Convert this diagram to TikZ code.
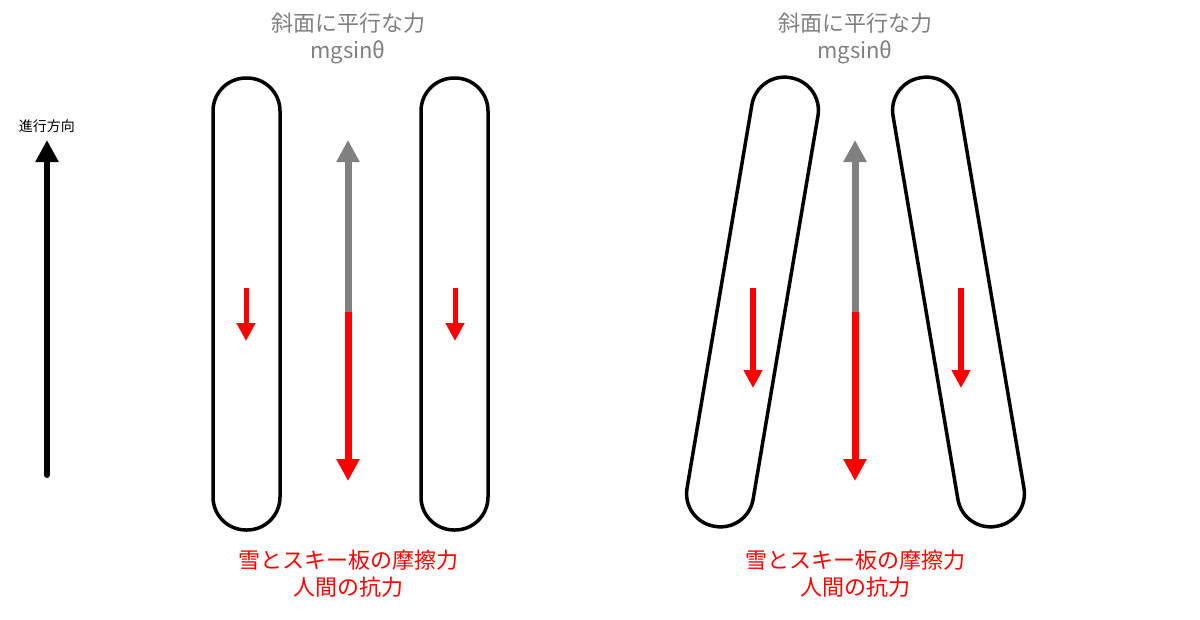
\documentclass[tikz,border=0pt]{standalone}
\usepackage{fontspec}
\setmainfont{Noto Sans CJK JP}
\usetikzlibrary{arrows.meta}
\definecolor{fgray}{RGB}{128,128,128}
\begin{document}
\begin{tikzpicture}[x=1pt,y=-1pt,
  ski/.style={draw=black,line width=3.5pt,rounded corners=33pt},
  bigarr/.style={line width=7pt,-{Triangle[length=22pt,width=22pt]}},
  smallarr/.style={line width=5pt,-{Triangle[length=18pt,width=18pt]}},
  lbl/.style={font=\fontsize{22}{27}\selectfont,align=center}]
\useasboundingbox (0,0) rectangle (1200,619);
% direction arrow
\node[font=\fontsize{14}{16}\selectfont] (dir) at (47,126) {進行方向};
\coordinate (d0) at (47,475); \coordinate (d1) at (47,140);
\draw[bigarr,line width=6pt,line cap=round] (d0) -- (d1);
% left panel
\node[ski,minimum width=67pt,minimum height=452pt] (s1) at (246.5,304) {};
\node[ski,minimum width=67pt,minimum height=452pt] (s2) at (454.5,304) {};
\node[lbl,text=fgray] (t1) at (348,38) {斜面に平行な力\\mgsinθ};
\node[lbl,text=red] (b1) at (348,574) {雪とスキー板の摩擦力\\人間の抗力};
\coordinate (m1) at (348,312);
\draw[bigarr,fgray] (m1) -- (348,140);
\draw[bigarr,red] (m1) -- (348,481);
\draw[smallarr,red] (246,288) -- (246,341);
\draw[smallarr,red] (455,288) -- (455,341);
% right panel
\node[ski,minimum width=67pt,minimum height=455pt,rotate=-9.6] (s3) at (752.5,302) {};
\node[ski,minimum width=67pt,minimum height=455pt,rotate=9.6] (s4) at (958.5,302) {};
\node[lbl,text=fgray] (t2) at (855,38) {斜面に平行な力\\mgsinθ};
\node[lbl,text=red] (b2) at (855,574) {雪とスキー板の摩擦力\\人間の抗力};
\coordinate (m2) at (855,312);
\draw[bigarr,fgray] (m2) -- (855,140);
\draw[bigarr,red] (m2) -- (855,481);
\draw[smallarr,red,line width=6pt] (753,288) -- (753,388);
\draw[smallarr,red,line width=6pt] (961,288) -- (961,388);
\end{tikzpicture}
\end{document}
